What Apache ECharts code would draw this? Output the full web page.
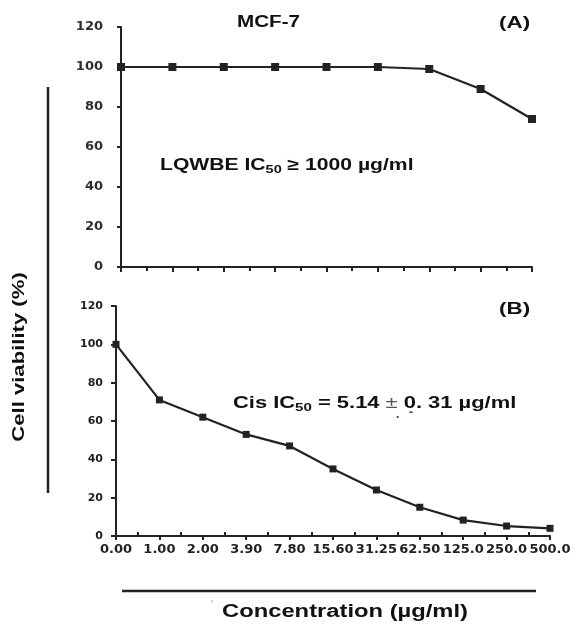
<!DOCTYPE html>
<html><head><meta charset="utf-8">
<script src="https://cdn.jsdelivr.net/npm/echarts@6/dist/echarts.min.js"></script>
<style>html,body{margin:0;padding:0;background:#fff}#c{width:576px;height:624px}</style>
</head><body><div id="c"></div>
<script>
const concLabels = ['0.00','1.00','2.00','3.90','7.80','15.60','31.25','62.50','125.0','250.0','500.0'];
const lqwbeValues = [100, 100, 100, 100, 100, 100, 99, 89, 74];
const cisValues = [100, 71, 62, 53, 47, 35, 24, 15, 8.3, 5.2, 4];
const yTicks = [0, 20, 40, 60, 80, 100, 120];

const txt = '#222';
const F = '"Liberation Sans"';
const chart = echarts.init(document.getElementById('c'));
chart.setOption({
  animation:false,
  grid:[
    {left:121, right:44, top:27, height:240},
    {left:116, right:26, top:306, height:230}
  ],
  xAxis:[
    {gridIndex:0, type:'value', min:0, max:lqwbeValues.length-1, interval:1,
     axisLine:{lineStyle:{color:txt,width:2}}, axisTick:{show:true,length:5,lineStyle:{color:txt,width:2}},
     minorTick:{show:true,splitNumber:2,length:4,lineStyle:{color:txt,width:2}},
     axisLabel:{show:false}, splitLine:{show:false}},
    {gridIndex:1, type:'value', min:0, max:concLabels.length-1, interval:1,
     axisLine:{lineStyle:{color:txt,width:2}}, axisTick:{show:true,length:4,lineStyle:{color:txt,width:2}},
     minorTick:{show:true,splitNumber:2,length:-4,lineStyle:{color:txt,width:2}},
     axisLabel:{margin:7, fontSize:13, color:'#222', fontFamily:'DejaVu Sans', fontWeight:'bold', formatter:v=>concLabels[v]},
     splitLine:{show:false}}
  ],
  yAxis:[
    {gridIndex:0, type:'value', min:yTicks[0], max:yTicks[yTicks.length-1], interval:20,
     axisLine:{show:true,lineStyle:{color:txt,width:2}}, axisTick:{show:true,length:4,lineStyle:{color:txt,width:2}},
     axisLabel:{margin:18, fontFamily:'DejaVu Sans', fontWeight:'bold', fontSize:13, color:'#2e2e2e'}, splitLine:{show:false}},
    {gridIndex:1, type:'value', min:yTicks[0], max:yTicks[yTicks.length-1], interval:20,
     axisLine:{show:true,lineStyle:{color:txt,width:2}}, axisTick:{show:true,length:5,lineStyle:{color:txt,width:2}},
     axisLabel:{margin:13, fontFamily:'DejaVu Sans', fontWeight:'bold', fontSize:11, color:'#222'}, splitLine:{show:false}}
  ],
  series:[
    {type:'line', xAxisIndex:0, yAxisIndex:0, data:lqwbeValues.map((v,i)=>[i,v]),
     symbol:'rect', symbolSize:8, itemStyle:{color:'#222'}, lineStyle:{color:'#222',width:2.2}},
    {type:'line', xAxisIndex:1, yAxisIndex:1, data:cisValues.map((v,i)=>[i,v]),
     symbol:'rect', symbolSize:7, itemStyle:{color:'#222'}, lineStyle:{color:'#222',width:2.2}}
  ],
  graphic:[
    {type:'text', x:237, y:23, scaleX:1.29, style:{text:'MCF-7', font:'bold 16px '+F, fill:'#111', verticalAlign:'middle'}},
    {type:'text', x:499, y:24, scaleX:1.4, style:{text:'(A)', font:'bold 16px '+F, fill:'#111', verticalAlign:'middle'}},
    {type:'text', x:499, y:310, scaleX:1.4, style:{text:'(B)', font:'bold 16px '+F, fill:'#111', verticalAlign:'middle'}},
    {type:'text', x:160, y:156, scaleX:1.32, style:{
      text:'{a|LQWBE IC}{s|50}{a| ≥ 1000 µg/ml}',
      rich:{a:{font:'bold 16px '+F, fill:'#111'}, s:{font:'bold 11px '+F, fill:'#111', padding:[8,0,0,0]}}}},
    {type:'text', x:233, y:394, scaleX:1.37, style:{
      text:'{a|Cis IC}{s|50}{a| = 5.14 }{p|±}{a| 0. 31 µg/ml}',
      rich:{a:{font:'bold 16px '+F, fill:'#111'}, s:{font:'bold 11px '+F, fill:'#111', padding:[8,0,0,0]}, p:{font:'16px '+F, fill:'#555'}}}},
    {type:'text', x:396, y:409, style:{text:'.', font:'bold 12px '+F, fill:'#333'}},
    {type:'text', x:409, y:407, style:{text:'-', font:'bold 12px '+F, fill:'#333'}},
    {type:'text', rotation:Math.PI/2, x:19, y:357, scaleX:1.3, style:{text:'Cell viability (%)', font:'bold 17px '+F, fill:'#111', align:'center', verticalAlign:'middle'}},
    {type:'line', shape:{x1:48, y1:87, x2:48, y2:493}, style:{stroke:'#222', lineWidth:2.5}},
    {type:'line', shape:{x1:122, y1:591, x2:536, y2:591}, style:{stroke:'#222', lineWidth:2.5}},
    {type:'text', x:211, y:600, style:{text:'\'', font:'10px '+F, fill:'#a86'}},
    {type:'text', x:222, y:612, scaleX:1.32, style:{text:'Concentration (µg/ml)', font:'bold 18px '+F, fill:'#111', verticalAlign:'middle'}}
  ]
});
</script></body></html>
